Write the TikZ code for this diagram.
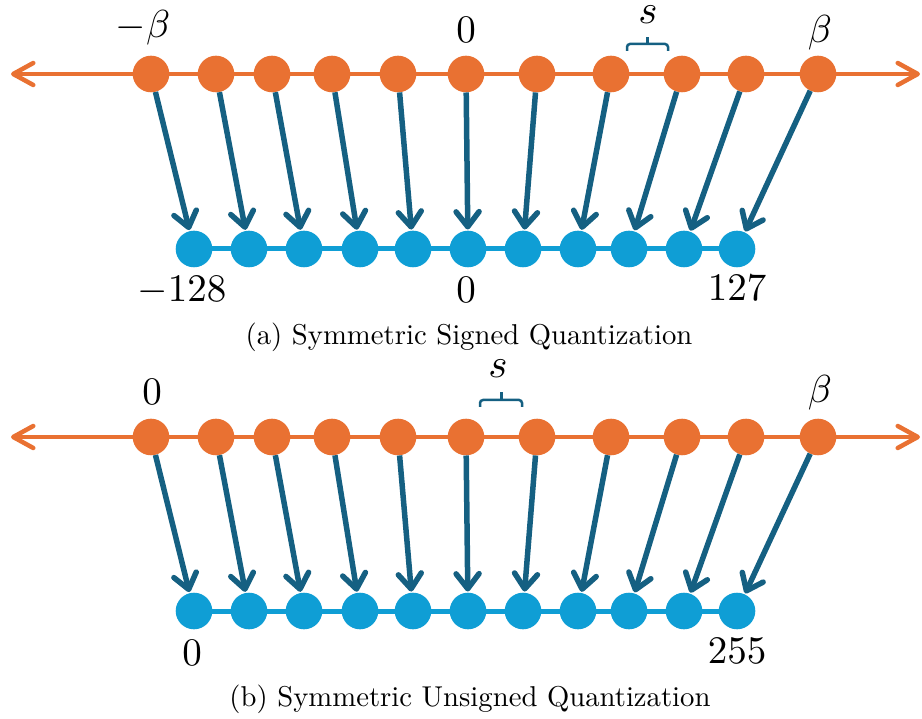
\documentclass[tikz,border=0pt]{standalone}
\usepackage{fix-cm}
\usetikzlibrary{arrows.meta}
\definecolor{qorange}{HTML}{E97132}
\definecolor{qlight}{HTML}{0F9ED5}
\definecolor{qdark}{HTML}{156082}
\begin{document}
\begin{tikzpicture}[x=1pt,y=-1pt,
  odot/.style={circle,fill=qorange,inner sep=0pt,minimum size=36.6pt},
  bdot/.style={circle,fill=qlight,inner sep=0pt,minimum size=36.6pt},
  axisline/.style={draw=qorange,line width=4.5pt,line cap=round,
    {Straight Barb[length=20pt,width=22pt,round]}-{Straight Barb[length=20pt,width=22pt,round]}},
  qline/.style={draw=qlight,line width=5pt},
  maparrow/.style={draw=qdark,line width=5.5pt,-{Straight Barb[length=15pt,width=23pt,round]},shorten >=1pt},
  qbrace/.style={draw=qdark,line width=2.5pt,rounded corners=3pt},
  lbl/.style={anchor=base,inner sep=0pt,scale=3.9},
  captext/.style={anchor=base,inner sep=0pt,scale=2.87}
]
\useasboundingbox (0,0) rectangle (922,719);

% ---------- (a) ----------
\coordinate (aL) at (11,74);
\coordinate (aR) at (920,74);
\draw[axisline] (aL) -- (aR);
\coordinate (abl) at (194,249);
\coordinate (abr) at (737,249);
\draw[qline] (abl) -- (abr);

\foreach \x [count=\i] in {151,216,272,332,398,466,537,611,682,746,818}
  \node[odot] (ao\i) at (\x,74) {};
\foreach \x [count=\i] in {194,249,304,360,413,468,523,578,629,684,737}
  \node[bdot] (ab\i) at (\x,249) {};
\foreach \i in {1,...,11}
  \draw[maparrow] (ao\i) -- (ab\i);

\node[lbl] (amb) at (143,38) {$-\beta$};
\node[lbl] (az) at (466,43) {$0$};
\node[lbl,scale=1.05] (as) at (648,24) {$s$};
\node[lbl] (ab) at (820,43) {$\beta$};
\coordinate (absL) at (627,51);
\coordinate (absM) at (647.5,37);
\coordinate (absR) at (668,51);
\draw[qbrace] (absL) -- (absL |- 0,44) -- (absR |- 0,44) -- (absR);
\draw[qdark,line width=2.5pt] (absM |- 0,44) -- (absM);

\node[lbl] (am128) at (182,302) {$-128$};
\node[lbl] (az2) at (466,303) {$0$};
\node[lbl] (a127) at (737,301) {$127$};
\node[captext] (acap) at (469,345) {(a) Symmetric Signed Quantization};

% ---------- (b) ----------
\coordinate (bL) at (11,437);
\coordinate (bR) at (920,437);
\draw[axisline] (bL) -- (bR);
\coordinate (bbl) at (194,611);
\coordinate (bbr) at (737,611);
\draw[qline] (bbl) -- (bbr);

\foreach \x [count=\i] in {151,216,272,332,398,466,537,611,682,746,818}
  \node[odot] (bo\i) at (\x,437) {};
\foreach \x [count=\i] in {194,249,304,360,413,468,523,578,629,684,737}
  \node[bdot] (bb\i) at (\x,611) {};
\foreach \i in {1,...,11}
  \draw[maparrow] (bo\i) -- (bb\i);

\node[lbl] (bz) at (152,405) {$0$};
\node[lbl,scale=1.05] (bs) at (498,378) {$s$};
\node[lbl] (bbeta) at (820,403) {$\beta$};
\coordinate (bbsL) at (480,407);
\coordinate (bbsM) at (501.5,392);
\coordinate (bbsR) at (522,407);
\draw[qbrace] (bbsL) -- (bbsL |- 0,400) -- (bbsR |- 0,400) -- (bbsR);
\draw[qdark,line width=2.5pt] (bbsM |- 0,400) -- (bbsM);

\node[lbl] (bz2) at (192,665) {$0$};
\node[lbl] (b255) at (737,663) {$255$};
\node[captext] (bcap) at (470,706) {(b) Symmetric Unsigned Quantization};
\end{tikzpicture}
\end{document}
